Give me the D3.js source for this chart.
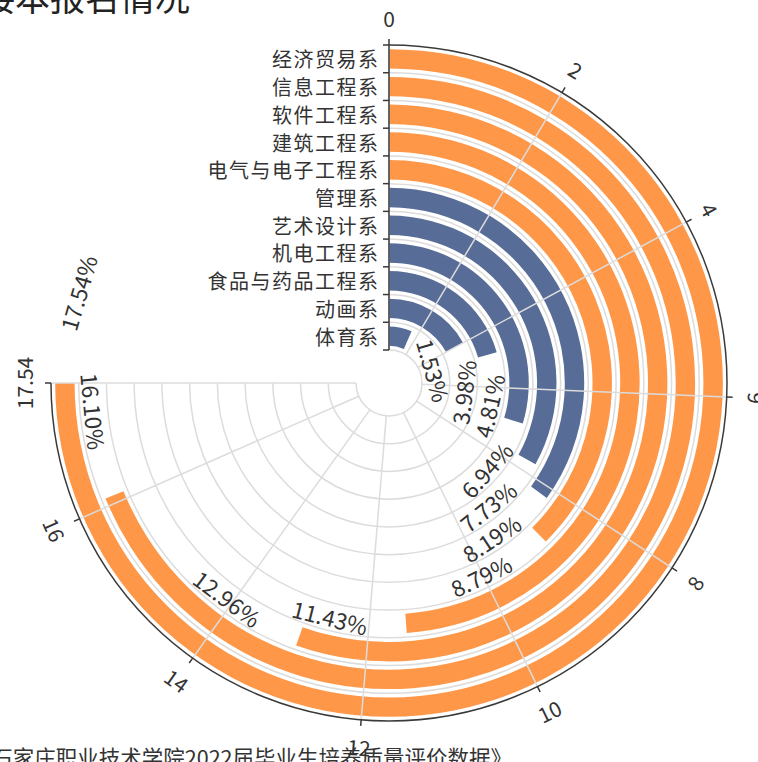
<!DOCTYPE html>
<html>
<head>
<meta charset="utf-8">
<script src="https://cdn.jsdelivr.net/npm/d3@7"></script>
<style>
  html, body { margin: 0; padding: 0; background: #fff; overflow: hidden; }
  svg { display: block; font-family: "Noto Sans CJK SC", "Noto Sans", sans-serif; }
</style>
</head>
<body>
<div id="chart"></div>
<script>
// categories from the centre outwards
const categories = ['体育系', '动画系', '食品与药品工程系', '机电工程系', '艺术设计系', '管理系',
    '电气与电子工程系', '建筑工程系', '软件工程系', '信息工程系', '经济贸易系'];
const shares = [1.53, 3.98, 4.81, 6.94, 7.73, 8.19, 8.79, 11.43, 12.96, 16.10, 17.54];
const topDepartments = ['电气与电子工程系', '建筑工程系', '软件工程系', '信息工程系', '经济贸易系'];
const angleTicks = [0, 2, 4, 6, 8, 10, 12, 14, 16, 17.54];
const maxShare = 17.54;

const titleText = '专接本报名情况';
const sourceText = '《石家庄职业技术学院2022届毕业生培养质量评价数据》';

// colours
const orangeColor = '#fe9748';
const blueColor = '#586c98';
const axisColor = '#3a3a3a';
const gridColor = '#dcdcdc';
const textColor = '#333';

const width = 758;
const height = 762;
const cx = 389;
const cy = 383;
const innerR = 33;
const outerR = 338;

const svg = d3.select('#chart')
    .append('svg')
    .attr('width', width)
    .attr('height', height);

const g = svg.append('g')
    .attr('transform', 'translate(' + cx + ',' + cy + ')');

// angle goes clockwise from 12 o'clock, max value at 270 degrees
const angle = d3.scaleLinear()
    .domain([0, maxShare])
    .range([0, 1.5 * Math.PI]);

const radius = d3.scaleBand()
    .domain(categories)
    .range([innerR, outerR])
    .paddingInner(0.3)
    .paddingOuter(0.15);

const step = radius.step();

// keep rotated text readable
function readableRotation(deg) {
    if (deg >= 270) return deg - 360;
    if (deg >= 90) return deg - 180;
    return deg;
}

// bars
const arcGen = d3.arc()
    .innerRadius(d => radius(d.name))
    .outerRadius(d => radius(d.name) + radius.bandwidth())
    .startAngle(0)
    .endAngle(d => angle(d.value));

const barData = categories.map((c, i) => ({ name: c, value: shares[i] }));

g.selectAll('.bar')
    .data(barData)
    .enter()
    .append('path')
    .attr('class', 'bar')
    .attr('d', arcGen)
    .attr('fill', d => topDepartments.indexOf(d.name) >= 0 ? orangeColor : blueColor);

// circular split lines at band edges
const ringRadii = d3.range(categories.length).map(i => innerR + i * step);
const ringArc = d3.arc()
    .innerRadius(d => d)
    .outerRadius(d => d)
    .startAngle(0)
    .endAngle(angle(maxShare));

g.selectAll('.ring')
    .data(ringRadii)
    .enter()
    .append('path')
    .attr('d', ringArc)
    .attr('fill', 'none')
    .attr('stroke', gridColor)
    .attr('stroke-width', 1.5);

// radial split lines
g.selectAll('.spoke')
    .data(angleTicks)
    .enter()
    .append('line')
    .attr('x1', d => innerR * Math.sin(angle(d)))
    .attr('y1', d => -innerR * Math.cos(angle(d)))
    .attr('x2', d => outerR * Math.sin(angle(d)))
    .attr('y2', d => -outerR * Math.cos(angle(d)))
    .attr('stroke', gridColor)
    .attr('stroke-width', 1.5);

// angle axis line
g.append('path')
    .attr('d', d3.arc()({
        innerRadius: outerR,
        outerRadius: outerR,
        startAngle: 0,
        endAngle: angle(maxShare)
    }))
    .attr('fill', 'none')
    .attr('stroke', axisColor)
    .attr('stroke-width', 1.5);

g.selectAll('.angle-tick')
    .data(angleTicks)
    .enter()
    .append('line')
    .attr('x1', d => outerR * Math.sin(angle(d)))
    .attr('y1', d => -outerR * Math.cos(angle(d)))
    .attr('x2', d => (outerR + 6) * Math.sin(angle(d)))
    .attr('y2', d => -(outerR + 6) * Math.cos(angle(d)))
    .attr('stroke', axisColor)
    .attr('stroke-width', 1.5);

const labelR = outerR + 27;
g.selectAll('.angle-label')
    .data(angleTicks)
    .enter()
    .append('text')
    .attr('transform', d => {
        const a = angle(d);
        const deg = readableRotation(a * 180 / Math.PI);
        return 'translate(' + (labelR * Math.sin(a)) + ',' + (-labelR * Math.cos(a)) + ') rotate(' + deg + ')';
    })
    .attr('text-anchor', 'middle')
    .attr('dominant-baseline', 'central')
    .attr('font-size', 21)
    .attr('fill', textColor)
    .text(d => d);

// radius (category) axis
g.append('line')
    .attr('x1', 0)
    .attr('y1', -innerR)
    .attr('x2', 0)
    .attr('y2', -outerR)
    .attr('stroke', axisColor)
    .attr('stroke-width', 1.5);

const tickRadii = d3.range(categories.length + 1).map(i => innerR + i * step);
g.selectAll('.cat-tick')
    .data(tickRadii)
    .enter()
    .append('line')
    .attr('x1', 0)
    .attr('x2', -6)
    .attr('y1', d => -d)
    .attr('y2', d => -d)
    .attr('stroke', axisColor)
    .attr('stroke-width', 1.5);

g.selectAll('.cat-label')
    .data(categories)
    .enter()
    .append('text')
    .attr('x', -9.5)
    .attr('y', d => -(radius(d) + radius.bandwidth() / 2))
    .attr('text-anchor', 'end')
    .attr('dominant-baseline', 'central')
    .attr('font-size', 20)
    .attr('letter-spacing', 1.5)
    .attr('fill', textColor)
    .text(d => d);

// value labels, placed along the ring just past the bar end
g.selectAll('.value-label')
    .data(barData)
    .enter()
    .append('text')
    .attr('transform', d => {
        const r = radius(d.name) + radius.bandwidth() / 2;
        const a = angle(d.value) + (0.18 * r + 33) / r;
        const deg = readableRotation(a * 180 / Math.PI);
        return 'translate(' + (r * Math.sin(a)) + ',' + (-r * Math.cos(a)) + ') rotate(' + deg + ')';
    })
    .attr('text-anchor', 'middle')
    .attr('dominant-baseline', 'central')
    .attr('font-size', 22.5)
    .attr('fill', textColor)
    .text(d => d.value.toFixed(2) + '%');

// title and source (both clipped by the frame in the reference)
svg.append('text')
    .attr('x', -55)
    .attr('y', 11)
    .attr('font-size', 35)
    .attr('fill', '#222')
    .text(titleText);

svg.append('text')
    .attr('x', 512)
    .attr('y', 766)
    .attr('text-anchor', 'end')
    .attr('font-size', 21.5)
    .attr('fill', textColor)
    .text(sourceText);
</script>
</body>
</html>
